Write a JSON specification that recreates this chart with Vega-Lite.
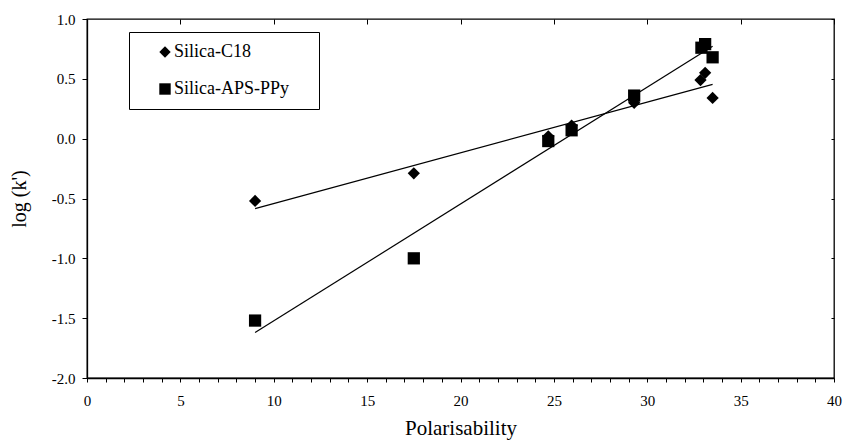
{
  "$schema": "https://vega.github.io/schema/vega-lite/v6.json",
  "width": 747,
  "height": 359,
  "autosize": "none",
  "padding": {"left": 87, "top": 19, "right": 9, "bottom": 62},
  "background": "white",
  "config": {
    "view": {"stroke": "black", "strokeWidth": 1.3},
    "font": "Liberation Serif",
    "axis": {
      "grid": false,
      "domainColor": "black",
      "domainWidth": 1.3,
      "tickColor": "black",
      "labelColor": "black",
      "titleColor": "black",
      "labelFont": "Liberation Serif",
      "titleFont": "Liberation Serif",
      "labelFontSize": 15,
      "titleFontSize": 20,
      "titleFontWeight": "normal"
    },
    "legend": {
      "labelFont": "Liberation Serif",
      "titleFont": "Liberation Serif"
    }
  },
  "data": {
    "values": [
      {"series": "Silica-C18", "polarisability": 9.0, "logk": -0.52},
      {"series": "Silica-C18", "polarisability": 17.5, "logk": -0.29},
      {"series": "Silica-C18", "polarisability": 24.7, "logk": 0.02},
      {"series": "Silica-C18", "polarisability": 25.95, "logk": 0.11},
      {"series": "Silica-C18", "polarisability": 29.3, "logk": 0.3},
      {"series": "Silica-C18", "polarisability": 32.85, "logk": 0.49},
      {"series": "Silica-C18", "polarisability": 33.1, "logk": 0.55},
      {"series": "Silica-C18", "polarisability": 33.5, "logk": 0.34},
      {"series": "Silica-APS-PPy", "polarisability": 9.0, "logk": -1.52},
      {"series": "Silica-APS-PPy", "polarisability": 17.5, "logk": -1.0},
      {"series": "Silica-APS-PPy", "polarisability": 24.7, "logk": -0.02},
      {"series": "Silica-APS-PPy", "polarisability": 25.95, "logk": 0.07},
      {"series": "Silica-APS-PPy", "polarisability": 29.3, "logk": 0.36},
      {"series": "Silica-APS-PPy", "polarisability": 32.9, "logk": 0.76},
      {"series": "Silica-APS-PPy", "polarisability": 33.1, "logk": 0.79},
      {"series": "Silica-APS-PPy", "polarisability": 33.5, "logk": 0.68}
    ]
  },
  "layer": [
    {
      "mark": {"type": "point", "filled": true, "opacity": 1, "color": "black", "size": 150},
      "encoding": {
        "x": {
          "field": "polarisability",
          "type": "quantitative",
          "scale": {"domain": [0, 40], "nice": false, "zero": false},
          "axis": {
            "values": [0,1,2,3,4,5,6,7,8,9,10,11,12,13,14,15,16,17,18,19,20,21,22,23,24,25,26,27,28,29,30,31,32,33,34,35,36,37,38,39,40],
            "tickSize": 4,
            "labelPadding": 11,
            "labelExpr": "datum.value % 5 === 0 ? datum.label : ''",
            "labelFlush": false,
            "labelOverlap": false,
            "title": "Polarisability",
            "titleFontSize": 21,
            "titlePadding": 9
          }
        },
        "y": {
          "field": "logk",
          "type": "quantitative",
          "scale": {"domain": [-2, 1], "nice": false, "zero": false},
          "axis": {
            "values": [-2, -1.5, -1, -0.5, 0, 0.5, 1],
            "tickSize": 5,
            "labelPadding": 7,
            "labelExpr": "replace(format(datum.value, '.1f'), '\u2212', '-')",
            "labelFlush": false,
            "labelOverlap": false,
            "title": "log (k')",
            "titlePadding": 22
          }
        },
        "shape": {
          "field": "series",
          "type": "nominal",
          "scale": {"domain": ["Silica-C18", "Silica-APS-PPy"], "range": ["diamond", "square"]},
          "legend": {
            "orient": "none",
            "legendX": 42,
            "legendY": 13,
            "title": ".",
            "titleOrient": "right",
            "titleOpacity": 0,
            "titleFontSize": 18,
            "titlePadding": 14,
            "strokeColor": "black",
            "fillColor": "white",
            "padding": 11,
            "symbolOffset": 16,
            "symbolSize": 130,
            "symbolFillColor": "black",
            "symbolStrokeColor": "black",
            "symbolStrokeWidth": 0,
            "labelFontSize": 18,
            "labelColor": "black",
            "labelOffset": 0,
            "labelLimit": 300,
            "rowPadding": 19
          }
        }
      }
    },
    {
      "transform": [
        {"regression": "logk", "on": "polarisability", "groupby": ["series"]}
      ],
      "mark": {"type": "line", "color": "black", "strokeWidth": 1.2},
      "encoding": {
        "x": {
          "field": "polarisability",
          "type": "quantitative",
          "axis": {
            "values": [0, 5, 10, 15, 20, 25, 30, 35, 40],
            "tickSize": -5,
            "labels": false,
            "domain": false,
            "title": null
          }
        },
        "y": {
          "field": "logk",
          "type": "quantitative",
          "axis": {
            "values": [-2, -1.5, -1, -0.5, 0, 0.5, 1],
            "tickSize": -3,
            "labels": false,
            "domain": false,
            "title": null
          }
        },
        "detail": {"field": "series", "type": "nominal"}
      }
    }
  ],
  "resolve": {"axis": {"x": "independent", "y": "independent"}}
}
